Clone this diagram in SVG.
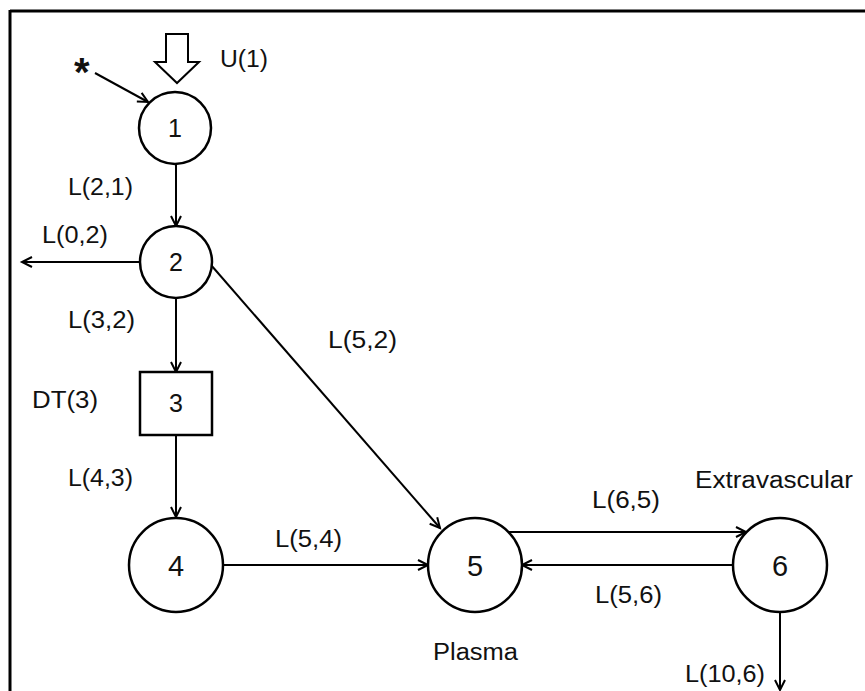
<svg xmlns="http://www.w3.org/2000/svg" width="865" height="691" viewBox="0 0 865 691">
<style>
text{font-family:"Liberation Sans",Arial,sans-serif;fill:#111}
.lbl{font-size:23px}
.num{font-size:25px;text-anchor:middle}
.big{font-size:29px;text-anchor:middle}
.node{fill:#fff;stroke:#000;stroke-width:2.5}
.edge{stroke:#000;stroke-width:2;fill:none}
</style>
<defs>
<marker id="ah" markerUnits="userSpaceOnUse" markerWidth="14" markerHeight="14" refX="11" refY="6" orient="auto">
<path d="M1,1 L11,6 L1,11" fill="none" stroke="#000" stroke-width="2"/>
</marker>
</defs>
<rect x="0" y="0" width="865" height="691" fill="#fff"/>
<g id="frame">
<line x1="10" y1="11" x2="865" y2="11" stroke="#000" stroke-width="3"/>
<line x1="10" y1="10" x2="10" y2="691" stroke="#000" stroke-width="3"/>
</g>
<g id="connectors">
<polygon points="166,34 188,34 188,62 199,62 177,83 155,62 166,62" fill="#fff" stroke="#000" stroke-width="2"/>
<line class="edge" x1="95" y1="73" x2="148" y2="102" marker-end="url(#ah)"/>
<line class="edge" x1="176" y1="164" x2="176" y2="226" marker-end="url(#ah)"/>
<line class="edge" x1="140" y1="262" x2="22" y2="262" marker-end="url(#ah)"/>
<line class="edge" x1="176" y1="298" x2="176" y2="372" marker-end="url(#ah)"/>
<line class="edge" x1="211" y1="265" x2="440" y2="528" marker-end="url(#ah)"/>
<line class="edge" x1="176" y1="435" x2="176" y2="517" marker-end="url(#ah)"/>
<line class="edge" x1="223" y1="565" x2="428" y2="565" marker-end="url(#ah)"/>
<line class="edge" x1="509" y1="532" x2="746" y2="532" marker-end="url(#ah)"/>
<line class="edge" x1="733" y1="565" x2="522" y2="565" marker-end="url(#ah)"/>
<line class="edge" x1="780" y1="612" x2="780" y2="690" marker-end="url(#ah)"/>
<text x="74" y="86" style="font-size:40px;font-weight:bold">*</text>
<text class="lbl" x="220" y="67" textLength="48" lengthAdjust="spacingAndGlyphs">U(1)</text>
<text class="lbl" x="68" y="195" textLength="65" lengthAdjust="spacingAndGlyphs">L(2,1)</text>
<text class="lbl" x="42" y="243" textLength="66" lengthAdjust="spacingAndGlyphs">L(0,2)</text>
<text class="lbl" x="68" y="328" textLength="67" lengthAdjust="spacingAndGlyphs">L(3,2)</text>
<text class="lbl" x="32" y="408" textLength="66" lengthAdjust="spacingAndGlyphs">DT(3)</text>
<text class="lbl" x="68" y="486" textLength="65" lengthAdjust="spacingAndGlyphs">L(4,3)</text>
<text class="lbl" x="328" y="348" textLength="69" lengthAdjust="spacingAndGlyphs">L(5,2)</text>
<text class="lbl" x="275" y="547" textLength="67" lengthAdjust="spacingAndGlyphs">L(5,4)</text>
<text class="lbl" x="592" y="508" textLength="68" lengthAdjust="spacingAndGlyphs">L(6,5)</text>
<text class="lbl" x="595" y="603" textLength="67" lengthAdjust="spacingAndGlyphs">L(5,6)</text>
<text class="lbl" x="685" y="682" textLength="80" lengthAdjust="spacingAndGlyphs">L(10,6)</text>
</g>
<g id="node1"><circle class="node" cx="175" cy="128" r="36"/><text class="num" x="175" y="137">1</text></g>
<g id="node2"><circle class="node" cx="176" cy="262" r="36"/><text class="num" x="176" y="271">2</text></g>
<g id="node3"><rect class="node" x="140" y="372" width="72" height="63"/><text class="num" x="176" y="412">3</text></g>
<g id="node4"><circle class="node" cx="176" cy="565" r="47"/><text class="big" x="176" y="576">4</text></g>
<g id="node5"><circle class="node" cx="475" cy="565" r="47"/><text class="big" x="475" y="576">5</text><text class="lbl" x="433" y="660" textLength="85" lengthAdjust="spacingAndGlyphs">Plasma</text></g>
<g id="node6"><circle class="node" cx="780" cy="565" r="47"/><text class="big" x="780" y="576">6</text><text class="lbl" x="695" y="488" textLength="158" lengthAdjust="spacingAndGlyphs">Extravascular</text></g>
</svg>
